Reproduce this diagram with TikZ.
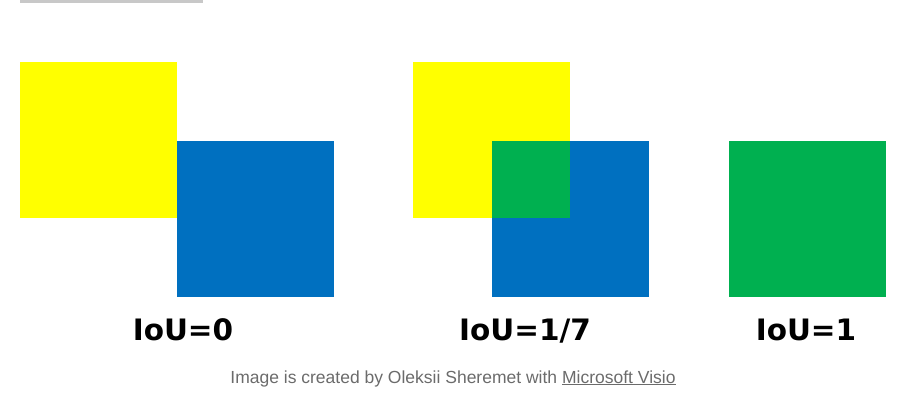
\documentclass[tikz,border=0pt]{standalone}
\usepackage{fontspec}
\setmainfont{Liberation Sans}
\newfontfamily\labelFont{DejaVu Sans}
\usepackage{xcolor}
\definecolor{boxYellow}{HTML}{FFFF00}
\definecolor{boxBlue}{HTML}{0070C0}
\definecolor{boxGreen}{HTML}{00B050}
\definecolor{barGray}{HTML}{C8C8C8}
\definecolor{captionGray}{HTML}{6B6B6B}
\usepackage{tikz}
\usetikzlibrary{positioning}
\tikzset{%
  boxSquare/.style={%
    rectangle,
    inner sep=0pt,
    draw=none,
    anchor=north west,
    minimum width=157pt,
    minimum height=156pt
  },
  iouLabel/.style={%
    font=\labelFont\bfseries\fontsize{29.5}{32}\selectfont,
    text=black,
    anchor=base,
    inner sep=0pt
  },
  captionText/.style={%
    font=\fontsize{17.5}{20}\selectfont,
    text=captionGray,
    anchor=base,
    inner sep=0pt
  }
}
\begin{document}
\begin{tikzpicture}[x=1pt,y=-1pt]
    \useasboundingbox (0,0) rectangle (905,405);
    \fill[barGray] (20,0) rectangle (203,3);

    % no overlap
    \node[boxSquare, fill=boxYellow] (yellowA) at (20,62) {};
    \node[boxSquare, fill=boxBlue] (blueA) at (177,141) {};
    \node[iouLabel] (labelA) at (183,340) {IoU=0};

    % partial overlap
    \node[boxSquare, fill=boxYellow] (yellowB) at (413,62) {};
    \node[boxSquare, fill=boxBlue] (blueB) at (492,141) {};
    \fill[boxGreen] (blueB.north west) rectangle (yellowB.south east);
    \node[iouLabel] (labelB) at (525,340) {IoU=1/7};

    % full overlap
    \node[boxSquare, fill=boxGreen] (greenC) at (729,141) {};
    \node[iouLabel] (labelC) at (806,340) {IoU=1};

    \node[captionText] (caption) at (453,383)
        {Image is created by Oleksii Sheremet with \underline{Microsoft Visio}};
\end{tikzpicture}
\end{document}
